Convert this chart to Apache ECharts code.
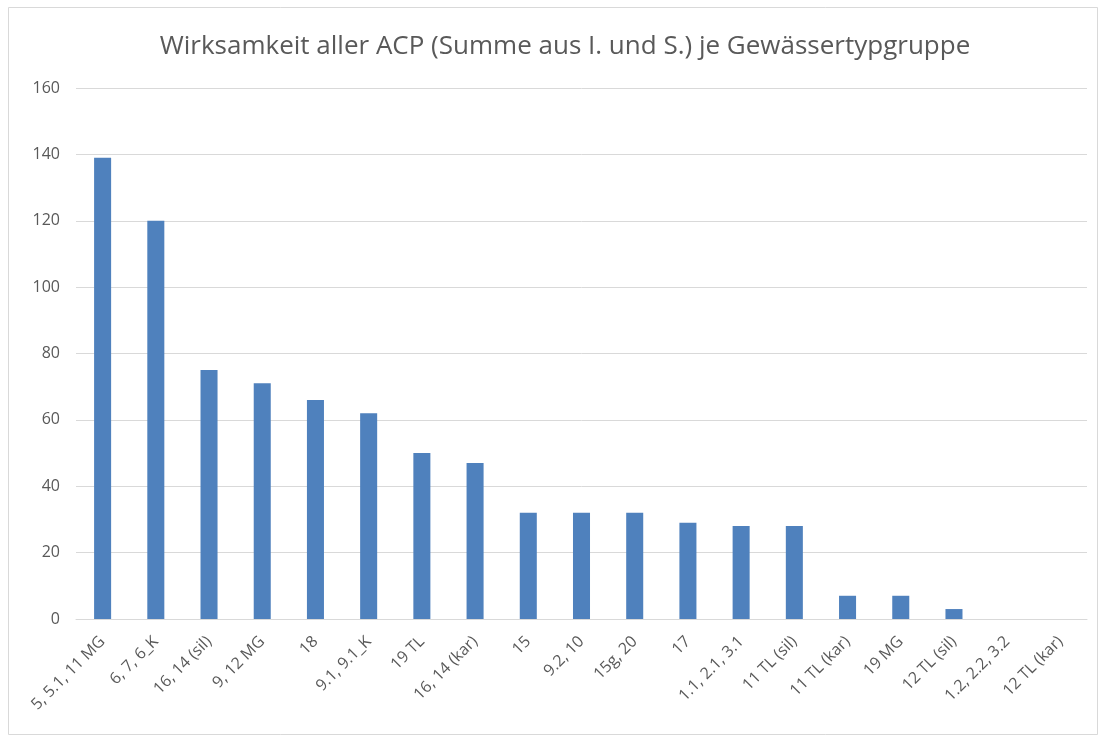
<!DOCTYPE html>
<html>
<head>
<meta charset="utf-8">
<script src="https://cdn.jsdelivr.net/npm/echarts@6/dist/echarts.min.js"></script>
<style>
html,body{margin:0;padding:0;background:#fff;}
#chart{width:1101px;height:739px;}
</style>
</head>
<body>
<div id="chart"></div>
<script>
// Gewässertypgruppen (x-Achse)
var categories = ['5, 5.1, 11 MG', '6, 7, 6_K', '16, 14 (sil)', '9, 12 MG', '18', '9.1, 9.1_K',
	'19 TL', '16, 14 (kar)', '15', '9.2, 10', '15g, 20', '17', '1.1, 2.1, 3.1',
	'11 TL (sil)', '11 TL (kar)', '19 MG', '12 TL (sil)', '1.2, 2.2, 3.2', '12 TL (kar)'];
// Wirksamkeit (Summe aus I. und S.)
var values = [139, 120, 75, 71, 66, 62, 50, 47, 32, 32, 32, 29, 28, 28, 7, 7, 3, 0, 0];
// y-Achse
var yMin = 0, yMax = 160, yStep = 20;

var textColor = '#595959';
var font = 'Open Sans';

var chart = echarts.init(document.getElementById('chart'));
chart.setOption({
	animation: false,
	backgroundColor: '#fff',
	graphic: [{
		type: 'rect',
		shape: {x: 8.5, y: 7.5, width: 1089, height: 727},
		style: {fill: 'none', stroke: '#d9d9d9', lineWidth: 1}
	}],
	title: {
		text: 'Wirksamkeit aller ACP (Summe aus I. und S.) je Gewässertypgruppe',
		left: 560,
		textAlign: 'center',
		top: 29,
		textStyle: {fontFamily: font, fontSize: 26, fontWeight: 'normal', color: textColor}
	},
	grid: {left: 76, right: 14, top: 88, bottom: 120},
	xAxis: {
		type: 'category',
		data: categories,
		axisLine: {lineStyle: {color: '#d9d9d9'}},
		axisTick: {show: false},
		axisLabel: {
			interval: 0, rotate: 45, margin: 20,
			fontFamily: font, fontSize: 16, color: textColor
		}
	},
	yAxis: {
		type: 'value',
		min: yMin, max: yMax, interval: yStep,
		axisLine: {show: false},
		axisTick: {show: false},
		splitLine: {lineStyle: {color: '#d9d9d9'}},
		axisLabel: {margin: 16, fontFamily: font, fontSize: 16, color: textColor}
	},
	series: [{
		type: 'bar',
		data: values,
		barWidth: '32%',
		itemStyle: {color: '#4f81bd'}
	}]
});
</script>
</body>
</html>
